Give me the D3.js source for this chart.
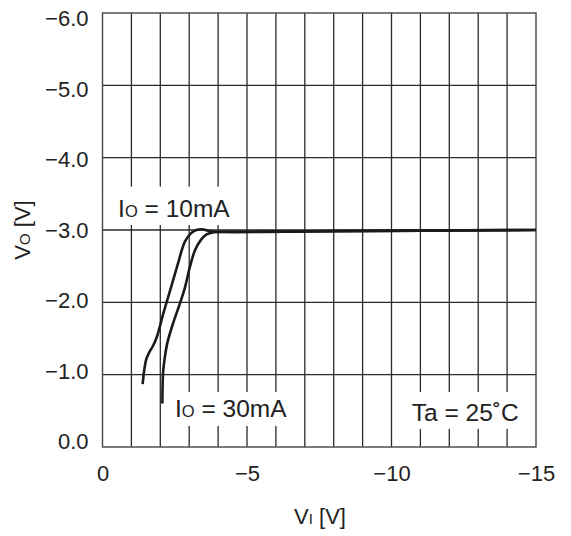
<!DOCTYPE html>
<html>
<head>
<meta charset="utf-8">
<script src="https://cdn.jsdelivr.net/npm/d3@7"></script>
<style>
  body { margin: 0; background: #fff; }
  text { font-family: "Liberation Sans", Arial, Helvetica, sans-serif; fill: #222; }
</style>
</head>
<body>
<svg width="571" height="536"></svg>
<script>
// input voltage VI [V] vs output voltage VO [V]
var xTicks = [0, -5, -10, -15];
var yTicks = [0, -1, -2, -3, -4, -5, -6];

var vi10 = [-1.39, -1.45, -1.52, -1.62, -1.75, -1.88, -2.1, -2.35, -2.6, -2.85, -3.05, -3.25, -3.45, -3.65, -3.9, -8, -15];
var vo10 = [-0.87, -1.08, -1.22, -1.31, -1.40, -1.52, -1.84, -2.18, -2.52, -2.84, -2.95, -3.0, -3.01, -2.99, -2.975, -2.985, -3.0];

var vi30 = [-2.07, -2.08, -2.10, -2.16, -2.25, -2.45, -2.65, -2.85, -3.03, -3.2, -3.4, -3.6, -3.85, -4.1, -8, -15];
var vo30 = [-0.60, -0.85, -1.05, -1.25, -1.45, -1.72, -1.95, -2.2, -2.5, -2.72, -2.86, -2.94, -2.97, -2.975, -2.985, -3.0];

var svg = d3.select("svg"),
    margin = {top: 13, right: 35, bottom: 89, left: 102.5},
    width = +svg.attr("width") - margin.left - margin.right,
    height = +svg.attr("height") - margin.top - margin.bottom,
    g = svg.append("g").attr("transform", "translate(" + margin.left + "," + margin.top + ")");

var x = d3.scaleLinear().domain([0, -15]).range([0, width]);
var y = d3.scaleLinear().domain([0, -6]).range([height, 0]);
// tick labels sit a little inside the grid ends in the original
var yLab = d3.scaleLinear().domain([0, -6]).range([height - 6, 4.5]);

var fmtY = function(d) { return d3.format(".1f")(d).replace("-", "\u2212"); };
var fmtX = function(d) { return String(d).replace("-", "\u2212"); };

// grid
g.append("g")
  .attr("class", "grid")
  .selectAll("line")
  .data(d3.range(1, 15).map(function(i) { return -i; }))
  .enter().append("line")
    .attr("x1", function(d) { return x(d); })
    .attr("x2", function(d) { return x(d); })
    .attr("y1", 0)
    .attr("y2", height)
    .attr("stroke", "#2a2a2a")
    .attr("stroke-width", 1.3);

g.append("g")
  .attr("class", "grid")
  .selectAll("line")
  .data(d3.range(1, 6).map(function(i) { return -i; }))
  .enter().append("line")
    .attr("x1", 0)
    .attr("x2", width)
    .attr("y1", function(d) { return y(d); })
    .attr("y2", function(d) { return y(d); })
    .attr("stroke", "#2a2a2a")
    .attr("stroke-width", 1.3);

g.append("rect")
  .attr("width", width)
  .attr("height", height)
  .attr("fill", "none")
  .attr("stroke", "#444")
  .attr("stroke-width", 1.4);

// axes (labels only)
var xAxis = g.append("g")
  .attr("class", "axis")
  .attr("transform", "translate(0," + (height + 31) + ")")
  .call(d3.axisBottom(x).tickValues(xTicks).tickSize(0).tickFormat(fmtX));
xAxis.select(".domain").remove();
xAxis.selectAll("text").attr("font-size", 22).attr("dy", 0).attr("fill", "#222");

var yAxis = g.append("g")
  .attr("class", "axis")
  .attr("transform", "translate(-11,0)")
  .call(d3.axisLeft(yLab).tickValues(yTicks).tickSize(0).tickFormat(fmtY));
yAxis.select(".domain").remove();
yAxis.selectAll("text").attr("font-size", 22).attr("dy", "0.36em").attr("fill", "#222");

// label boxes that mask the grid
function label(parts, bx0, bx1, by0, by1, tx, ty) {
  g.append("rect")
    .attr("x", x(bx0)).attr("y", y(by0))
    .attr("width", x(bx1) - x(bx0))
    .attr("height", y(by1) - y(by0))
    .attr("fill", "#fff");
  var t = g.append("text")
    .attr("x", x(tx)).attr("y", y(ty))
    .attr("font-size", 24.5);
  parts.forEach(function(p) {
    t.append("tspan").attr("font-size", p[1]).text(p[0]);
  });
}

label([["I", 24.5], ["O", 16.5], [" = 10mA", 24.5]], -0.05, -4.75, -3.6, -3.07, -0.54, -3.18);
label([["I", 24.5], ["O", 16.5], [" = 30mA", 24.5]], -2.28, -6.75, -0.76, -0.29, -2.51, -0.415);
label([["Ta = 25\u02DAC", 24.5]], -10.6, -14.65, -0.76, -0.25, -10.7, -0.355);

// curves
var line = d3.line()
  .x(function(d) { return x(d[0]); })
  .y(function(d) { return y(d[1]); })
  .curve(d3.curveCatmullRom.alpha(0.5));

[[vi10, vo10], [vi30, vo30]].forEach(function(s) {
  g.append("path")
    .datum(d3.zip(s[0], s[1]))
    .attr("fill", "none")
    .attr("stroke", "#1a1a1a")
    .attr("stroke-width", 2.6)
    .attr("stroke-linejoin", "round")
    .attr("d", line);
});

// axis titles
var xt = svg.append("text")
  .attr("x", 320).attr("y", 524)
  .attr("text-anchor", "middle")
  .attr("font-size", 22);
xt.append("tspan").text("V");
xt.append("tspan").attr("font-size", 15).text("I");
xt.append("tspan").text(" [V]");

var yt = svg.append("text")
  .attr("transform", "translate(30,230) rotate(-90)")
  .attr("text-anchor", "middle")
  .attr("font-size", 22);
yt.append("tspan").text("V");
yt.append("tspan").attr("font-size", 15).text("O");
yt.append("tspan").text(" [V]");
</script>
</body>
</html>
